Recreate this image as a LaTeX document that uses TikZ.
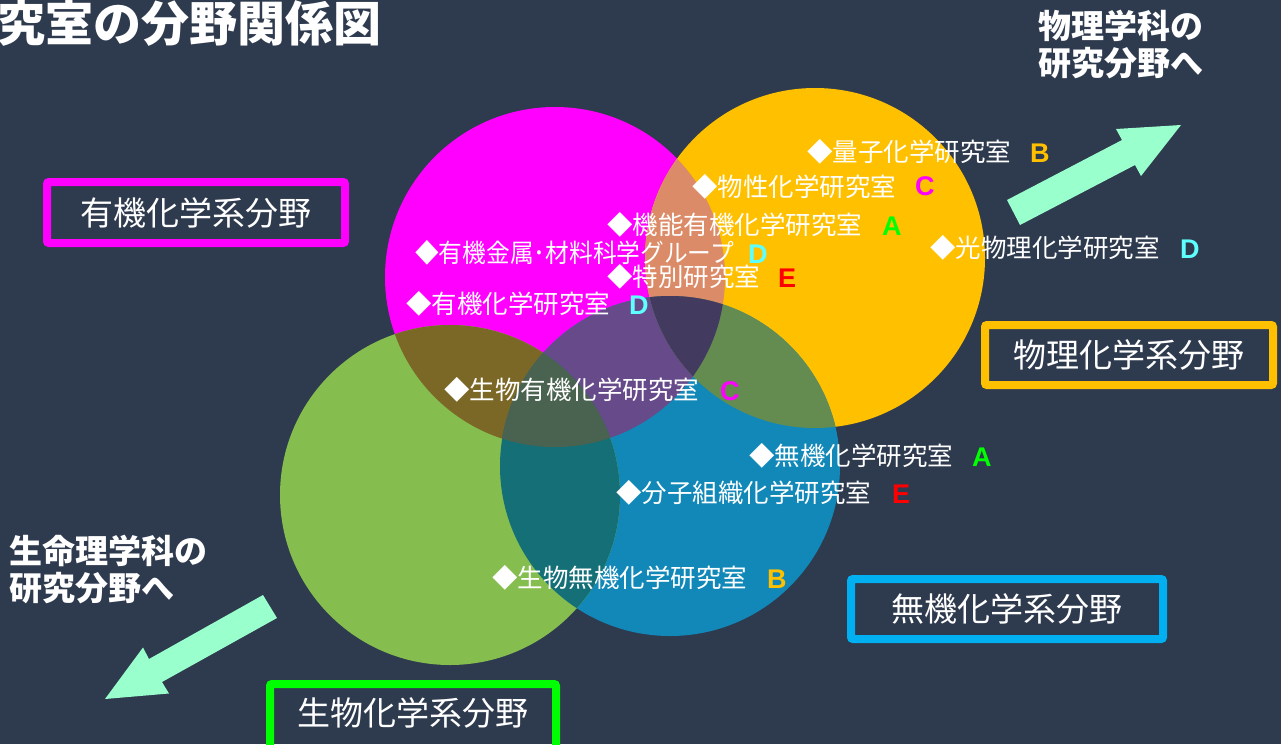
\documentclass[tikz,border=0pt]{standalone}
\usepackage{fontspec}
\setmainfont{Liberation Sans}
\newfontfamily\jp{Noto Sans CJK JP}
\definecolor{bgc}{HTML}{2E3A4E}
\definecolor{cmag}{HTML}{FF00FF}
\definecolor{corg}{HTML}{FFC000}
\definecolor{cblu}{HTML}{1188B8}
\definecolor{cgrn}{HTML}{85BD4F}
\definecolor{cmo}{HTML}{DB8B67}
\definecolor{cmg}{HTML}{7C6826}
\definecolor{cmb}{HTML}{664A8A}
\definecolor{cob}{HTML}{658C50}
\definecolor{cgb}{HTML}{146F77}
\definecolor{cmob}{HTML}{433B5F}
\definecolor{cmgb}{HTML}{4A6350}
\definecolor{mint}{HTML}{99FFCC}
\definecolor{bxblue}{HTML}{00B0F0}
\definecolor{bxgreen}{HTML}{00FF00}
\definecolor{lA}{HTML}{00FF00}
\definecolor{lB}{HTML}{FFC000}
\definecolor{lC}{HTML}{FF00FF}
\definecolor{lD}{HTML}{5EFFFF}
\definecolor{lE}{HTML}{FF0000}
\begin{document}
\begin{tikzpicture}[x=1pt,y=-1pt,
  lab/.style={anchor=west,inner sep=0pt,text=white,font=\jp\fontsize{25.5}{25.5}\selectfont},
  grade/.style={anchor=west,inner sep=0pt,font=\bfseries\fontsize{27}{27}\selectfont},
  fieldbox/.style={line width=8pt,rounded corners=2pt},
  fieldtext/.style={inner sep=0pt,text=white,font=\jp\fontsize{33}{33}\selectfont},
  corner/.style={anchor=west,inner sep=0pt,text=white,align=left,font=\jp\bfseries\fontsize{33}{37}\selectfont},
  arrowshape/.style={fill=mint}]
\useasboundingbox (0,0) rectangle (1281,744);
\fill[bgc] (0,0) rectangle (1281,744);
% circle centres
\coordinate (M) at (555,277);
\coordinate (O) at (815,258);
\coordinate (B) at (670,466);
\coordinate (G) at (450,495);
\def\rr{170pt}
\fill[cmag] (M) circle[radius=\rr];
\fill[corg] (O) circle[radius=\rr];
\fill[cblu] (B) circle[radius=\rr];
\fill[cgrn] (G) circle[radius=\rr];
% pairwise overlaps
\begin{scope}\clip (M) circle[radius=\rr]; \fill[cmo] (O) circle[radius=\rr];\end{scope}
\begin{scope}\clip (M) circle[radius=\rr]; \fill[cmg] (G) circle[radius=\rr];\end{scope}
\begin{scope}\clip (M) circle[radius=\rr]; \fill[cmb] (B) circle[radius=\rr];\end{scope}
\begin{scope}\clip (O) circle[radius=\rr]; \fill[cob] (B) circle[radius=\rr];\end{scope}
\begin{scope}\clip (G) circle[radius=\rr]; \fill[cgb] (B) circle[radius=\rr];\end{scope}
% triple overlaps
\begin{scope}\clip (M) circle[radius=\rr]; \clip (O) circle[radius=\rr]; \fill[cmob] (B) circle[radius=\rr];\end{scope}
\begin{scope}\clip (M) circle[radius=\rr]; \clip (G) circle[radius=\rr]; \fill[cmgb] (B) circle[radius=\rr];\end{scope}

% title
\node[anchor=west,inner sep=0pt,text=white,font=\jp\bfseries\fontsize{48}{48}\selectfont] (title) at (-3,23) {究室の分野関係図};

% corner texts
\node[corner] (phys) at (1038,45) {物理学科の\\研究分野へ};
\node[corner] (life) at (9,569) {生命理学科の\\研究分野へ};

% arrows
\fill[arrowshape] (1007,200) -- (1122,140) -- (1116,129) -- (1181,125) -- (1141,176) -- (1135,165) -- (1020,225) -- cycle;
\fill[arrowshape] (263,595) -- (149,659) -- (143,647.5) -- (105,699) -- (169,693.5) -- (162,682) -- (277,618) -- cycle;

% field boxes
\draw[fieldbox,draw=cmag] (47,182) rectangle (345,243);
\node[fieldtext] (orgf) at (196,213) {有機化学系分野};
\draw[fieldbox,draw=corg] (985,325) rectangle (1273,385);
\node[fieldtext] (physf) at (1129,355) {物理化学系分野};
\draw[fieldbox,draw=bxblue] (851,579) rectangle (1163,639);
\node[fieldtext] (inorgf) at (1007,609) {無機化学系分野};
\draw[fieldbox,draw=bxgreen] (270,684) rectangle (556,770);
\node[fieldtext] (biof) at (413,713) {生物化学系分野};

% lab labels
\node[lab] (l1) at (807,152) {◆量子化学研究室};
\node[grade,text=lB] (g1) at (1030,153) {B};
\node[lab] (l2) at (692,187) {◆物性化学研究室};
\node[grade,text=lC] (g2) at (915,186) {C};
\node[lab] (l3) at (607,225) {◆機能有機化学研究室};
\node[grade,text=lA] (g3) at (882,226) {A};
\node[lab] (l4) at (930,248) {◆光物理化学研究室};
\node[grade,text=lD] (g4) at (1180,249) {D};
\node[lab] (l5) at (415,253) {\scalebox{0.93}[1]{◆有機金属･材料科学グループ}};
\node[grade,text=lD] (g5) at (748,254) {D};
\node[lab] (l6) at (607,277) {◆特別研究室};
\node[grade,text=lE] (g6) at (778,278) {E};
\node[lab] (l7) at (406,304) {◆有機化学研究室};
\node[grade,text=lD] (g7) at (629,305) {D};
\node[lab] (l8) at (444,390) {◆生物有機化学研究室};
\node[grade,text=lC] (g8) at (720,391) {C};
\node[lab] (l9) at (749,456) {◆無機化学研究室};
\node[grade,text=lA] (g9) at (972,457) {A};
\node[lab] (l10) at (616,493) {◆分子組織化学研究室};
\node[grade,text=lE] (g10) at (892,494) {E};
\node[lab] (l11) at (492,578) {◆生物無機化学研究室};
\node[grade,text=lB] (g11) at (767,579) {B};
\end{tikzpicture}
\end{document}
